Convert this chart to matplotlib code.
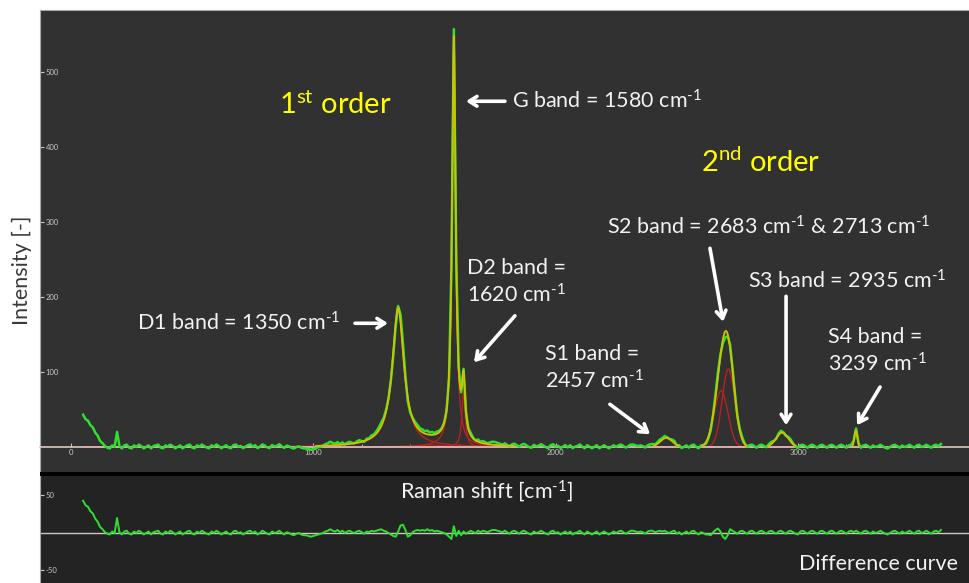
import matplotlib
matplotlib.use("Agg")
import matplotlib.pyplot as plt
from matplotlib.patches import Rectangle
import numpy as np

plt.rcParams['font.family'] = ['Lato', 'DejaVu Sans']
plt.rcParams['mathtext.default'] = 'regular'
plt.rcParams['axes.unicode_minus'] = False

# fitted bands: centre [cm-1], height, width (HWHM for Lorentz, sigma for Gauss), profile
band_center = [1350, 1480, 1580, 1620, 2457, 2683, 2713, 2935, 3239]
band_height = [185, 3, 542, 74, 12, 75, 104, 19, 22]
band_width = [29, 50, 9, 8, 25, 28, 26, 25, 6]
band_shape = ['L', 'G', 'L', 'L', 'G', 'G', 'G', 'G', 'G']

# measured minus fitted (difference curve), every 10 cm-1 starting at 50 cm-1
residual = [
    43, 37, 35, 29, 26, 19, 15, 8, 5, 1,
    -1, -2, 2, 0, 20, 1, -2, 2, 3, -1,
    -2, 2, 0, 3, 1, -2, 0, 2, -2, 1,
    2, 3, -1, -2, 2, 0, 3, 1, -2, 0,
    2, -2, 0, 2, 3, -1, -2, 2, 0, 3,
    1, -1, -2, 2, 0, 3, 1, -2, 0, 2,
    -1, -2, 2, 3, 0, 1, -2, 0, 2, 3,
    0, 2, -2, 0, 3, 1, -1, -2, 2, 0,
    1, 3, 0, -2, 1, 0, -2, -3, -1, 0,
    -2, -3, -3, -4, -5, -4, -3, -2, -1, 0,
    2, 3, 5, 3, 2, 4, 1, 3, 0, 2,
    3, 1, 0, 2, 3, 1, -1, 2, 1, 3,
    2, 3, 4, 5, 3, 2, 0, -2, -4, -5,
    2, 10, 11, 4, -5, -3, 1, 3, 4, 3,
    4, 3, 5, 3, 4, 2, 3, 2, 1, 0,
    -2, -5, -8, 9, -4, 3, -3, 2, -1, 1,
    3, 1, 0, 3, 1, 3, 2, 1, 3, 4,
    4, 3, 2, 1, 3, 1, -1, 2, 3, 1,
    -1, 2, 3, 1, -1, -2, 2, 0, 1, 3,
    1, -1, -2, 2, 3, 0, 1, -2, 0, 2,
    -1, 2, -2, 0, 1, 3, 0, -2, 2, 0,
    -2, 0, 2, -2, 0, 2, 0, -2, 0, 2,
    0, 2, 3, 1, -1, 1, 3, 3, 2, 1,
    2, 1, -1, 2, 3, 3, 1, 2, 3, 2,
    3, 1, 0, 2, 3, -1, 1, -2, 0, 2,
    -1, 2, 3, 0, -2, 1, 0, -2, -2, -3,
    1, 4, 6, 2, -5, -8, -3, 5, 3, 1,
    -1, 2, 3, 1, -1, 2, 3, 1, -1, 2,
    3, 1, -1, 2, 3, 1, -1, 2, 3, 1,
    -1, 2, 3, 1, -1, -2, 2, 3, 1, -1,
    2, 3, 1, -1, 2, 3, 1, -1, 2, 3,
    1, -1, 2, 3, 1, -1, 2, 3, 1, 3,
    1, -1, 2, 3, 1, -1, 2, 0, 1, 3,
    1, -1, -2, 0, 2, 3, 1, -1, 2, 0,
    1, 3, 1, -1, 2, 3, 0, 1, 3, 1,
    -1, 2, 3, 1, 4,
]
residual = np.array(residual, dtype=float)
x_data = 50 + 10 * np.arange(len(residual))
x_fit = np.arange(50, x_data[-1] + 1, 2)


def band(x, c, h, w, s):
    if s == 'L':
        return h / (1 + ((x - c) / w) ** 2)
    return h * np.exp(-0.5 * ((x - c) / w) ** 2)


components = [band(x_fit, c, h, w, s) for c, h, w, s in
              zip(band_center, band_height, band_width, band_shape)]
fit_sum = np.sum(components, axis=0)
measured = np.sum([band(x_data, c, h, w, s) for c, h, w, s in
                   zip(band_center, band_height, band_width, band_shape)], axis=0) + residual

W, H = 969, 583
fig = plt.figure(figsize=(9.69, 5.83), dpi=100)
fig.patch.set_facecolor('white')

ax = fig.add_axes([40 / W, (H - 472) / H, 929 / W, 462 / H])
ax2 = fig.add_axes([40 / W, 0, 929 / W, 107 / H])
fig.patches.append(Rectangle((40 / W, 107 / H), 929 / W, 4 / H, transform=fig.transFigure,
                             facecolor='black', edgecolor='none', zorder=5))

xlim = (-128, 3706)
grn = '#2fe02f'
ylw = '#cfc200'
red = '#b82222'

# ---- top panel
ax.set_facecolor('#313131')
for comp in components:
    ax.plot(x_fit, comp, color=red, lw=1.0, zorder=2)
ax.plot(x_data, measured, color=grn, lw=1.8, zorder=3)
ax.plot(x_fit, np.where(fit_sum > 1.5, fit_sum, np.nan), color=ylw, lw=1.3, zorder=4)
ax.set_xlim(xlim)
ax.set_ylim(-33.3, 582.7)

ax.spines['right'].set_visible(False)
ax.spines['top'].set_color('#a8a8a8')
ax.spines['left'].set_color('#a8a8a8')
ax.spines['bottom'].set_position(('data', 0))
ax.spines['bottom'].set_color('#dcc6c2')
ax.spines['bottom'].set_linewidth(1.2)
ax.set_xticks([0, 1000, 2000, 3000])
ax.set_xticks(np.arange(0, 3600, 200), minor=True)
ax.set_yticks([100, 200, 300, 400, 500])
ax.tick_params(axis='x', which='both', direction='in', colors='#c8c8c8', labelsize=5.5, pad=1.5)
ax.tick_params(axis='x', which='major', length=3)
ax.tick_params(axis='x', which='minor', length=2)
ax.tick_params(axis='y', direction='in', length=3, colors='#c8c8c8', labelsize=5.5, pad=-4)
for lab in ax.get_yticklabels():
    lab.set_horizontalalignment('left')

wht = '#f2f2f2'
fs = 15.5
cm = 'cm$^{\u2010 1}$'
ax.text(1090, 456, '1$^{st}$ order', color='#ffff00', fontsize=21, ha='center', va='center')
ax.text(2848, 380, '2$^{nd}$ order', color='#ffff00', fontsize=21, ha='center', va='center')
ax.text(1820, 461, 'G band = 1580 ' + cm, color=wht, fontsize=fs, ha='left', va='center')
ax.text(272, 165, 'D1 band = 1350 ' + cm, color=wht, fontsize=fs, ha='left', va='center')
ax.text(1634, 220, 'D2 band =\n1620 ' + cm, color=wht, fontsize=fs, ha='left', va='center',
        linespacing=1.3)
ax.text(1956, 105, 'S1 band =\n2457 ' + cm, color=wht, fontsize=fs, ha='left', va='center',
        linespacing=1.3)
ax.text(2212, 293, 'S2 band = 2683 ' + cm + ' & 2713 ' + cm, color=wht, fontsize=fs,
        ha='left', va='center')
ax.text(2794, 221, 'S3 band = 2935 ' + cm, color=wht, fontsize=fs, ha='left', va='center')
ax.text(3124, 128, 'S4 band =\n3239 ' + cm, color=wht, fontsize=fs, ha='left', va='center',
        linespacing=1.3)

arrows = [
    ((1630, 461), (1791, 461)),
    ((1308, 165), (1172, 165)),
    ((1663, 113), (1832, 175)),
    ((2390, 17), (2224, 57)),
    ((2691, 167), (2637, 265)),
    ((2951, 29), (2951, 201)),
    ((3244, 29), (3339, 80)),
]
for tip, tail in arrows:
    ax.annotate('', xy=tip, xytext=tail,
                arrowprops=dict(arrowstyle='->,head_length=0.55,head_width=0.35',
                                color='white', lw=2.6, shrinkA=0, shrinkB=0))

# ---- difference panel
ax2.set_facecolor('#232323')
ax2.axhline(0, color='#c8c8c8', lw=1.0, zorder=2)
ax2.plot(x_data, residual, color=grn, lw=1.4, zorder=3)
ax2.set_xlim(xlim)
ax2.set_ylim(-66.7, 76)
for s in ['top', 'right', 'bottom']:
    ax2.spines[s].set_visible(False)
ax2.spines['left'].set_color('#a8a8a8')
ax2.set_xticks([])
ax2.set_yticks([-50, 50])
ax2.tick_params(axis='y', direction='in', length=3, colors='#c8c8c8', labelsize=5.5, pad=-4)
for lab in ax2.get_yticklabels():
    lab.set_horizontalalignment('left')
ax2.text(1717, 56, 'Raman shift [' + cm + ']', color=wht, fontsize=fs, ha='center', va='center')
ax2.text(3661, -41, 'Difference curve', color=wht, fontsize=fs, ha='right', va='center')

fig.text(22 / W, 1 - 270 / H, 'Intensity [-]', rotation=90, color='#3a3a3a', fontsize=fs,
         ha='center', va='center')

fig.savefig('out.png', dpi=100)
